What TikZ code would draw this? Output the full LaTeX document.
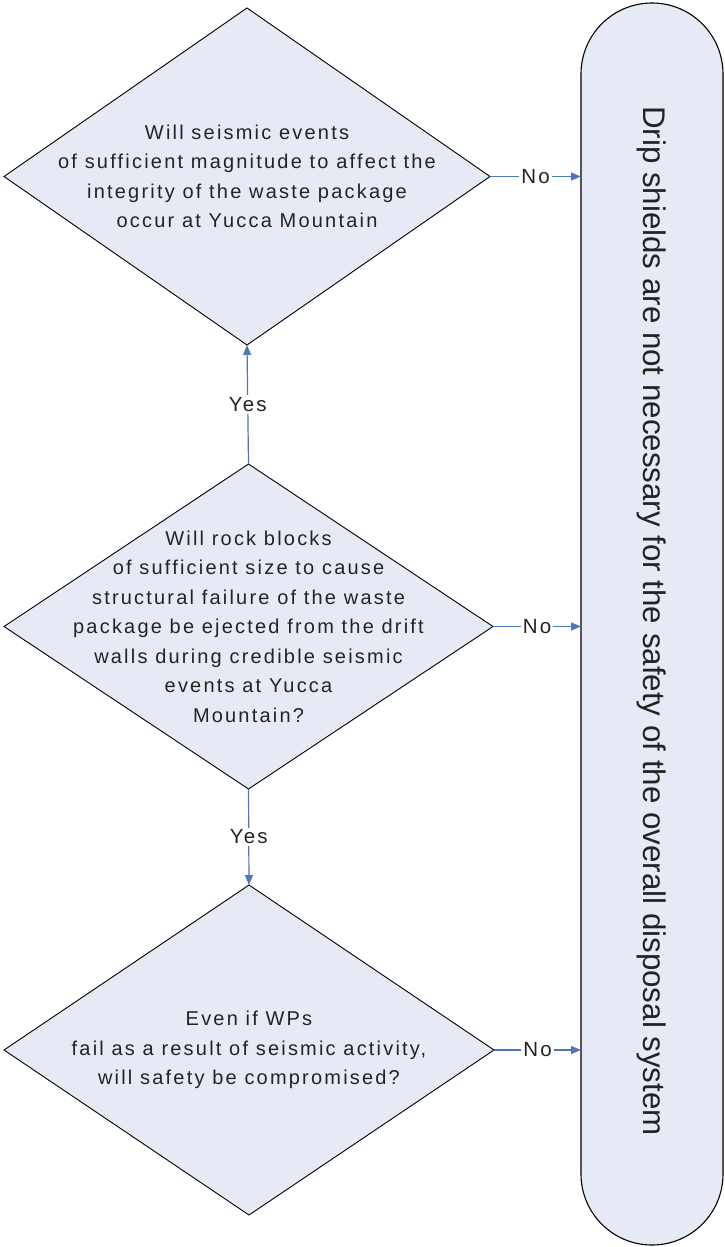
\documentclass[tikz,border=0pt]{standalone}
\usepackage{fontspec}
\setmainfont{Liberation Sans}
\newfontfamily\qfont[LetterSpace=11]{Liberation Sans}
\newfontfamily\bigfont{Liberation Sans}
\usetikzlibrary{shapes.geometric,arrows.meta}
\definecolor{shapefill}{RGB}{229,234,245}
\definecolor{connblue}{RGB}{78,118,184}
\definecolor{txt}{RGB}{35,35,35}
\begin{document}
\begin{tikzpicture}[x=1pt,y=-1pt,
  decision/.style={diamond, draw=black, fill=shapefill, line width=0.9pt, inner sep=0pt, outer sep=0pt},
  qtext/.style={align=center, inner sep=0pt, text=txt, font=\qfont\fontsize{20}{29.5}\selectfont},
  conn/.style={draw=connblue, line width=1.2pt, -{Triangle[length=10pt,width=8pt]}},
  lab/.style={fill=white, inner sep=2pt, text=txt, font=\qfont\fontsize{20.5}{24}\selectfont},
  terminal/.style={draw=black, fill=shapefill, line width=1.1pt, rounded corners=71pt, minimum width=142pt, minimum height=1242pt, inner sep=0pt, outer sep=0pt}
]
\useasboundingbox (0,0) rectangle (725,1247);
\fill[white] (0,0) rectangle (725,1247);

\node[terminal] (box) at (652,624) {};
\node[rotate=-90, anchor=base, inner sep=0pt, text=txt, font=\bigfont\fontsize{31.3}{36}\selectfont] (boxtext) at (643,621)
  {Drip shields are not necessary for the safety of the overall disposal system};

\node[decision, minimum width=486pt, minimum height=337pt] (d1) at (247,176.5) {};
\node[qtext] (t1) at (d1.center) {Will seismic events\\of sufficient magnitude to affect the\\integrity of the waste package\\occur at Yucca Mountain};

\node[decision, minimum width=489pt, minimum height=325pt] (d2) at (248.5,626.5) {};
\node[qtext] (t2) at (d2.center) {Will rock blocks\\of sufficient size to cause\\structural failure of the waste\\package be ejected from the drift\\walls during credible seismic\\events at Yucca\\Mountain?};

\node[decision, minimum width=490pt, minimum height=330pt] (d3) at (249,1050) {};
\node[qtext] (t3) at (d3.center) {Even if WPs\\fail as a result of seismic activity,\\will safety be compromised?};

\draw[conn] (d2.north) -- node[lab] (y1) {Yes} (d1.south);
\draw[conn] (d2.south) -- node[lab] (y2) {Yes} (d3.north);

\draw[conn] (d1.east) -- node[lab] (n1) {No} (d1.east -| box.west);
\draw[conn] (d2.east) -- node[lab] (n2) {No} (d2.east -| box.west);
\draw[conn] (d3.east) -- node[lab] (n3) {No} (d3.east -| box.west);
\end{tikzpicture}
\end{document}
